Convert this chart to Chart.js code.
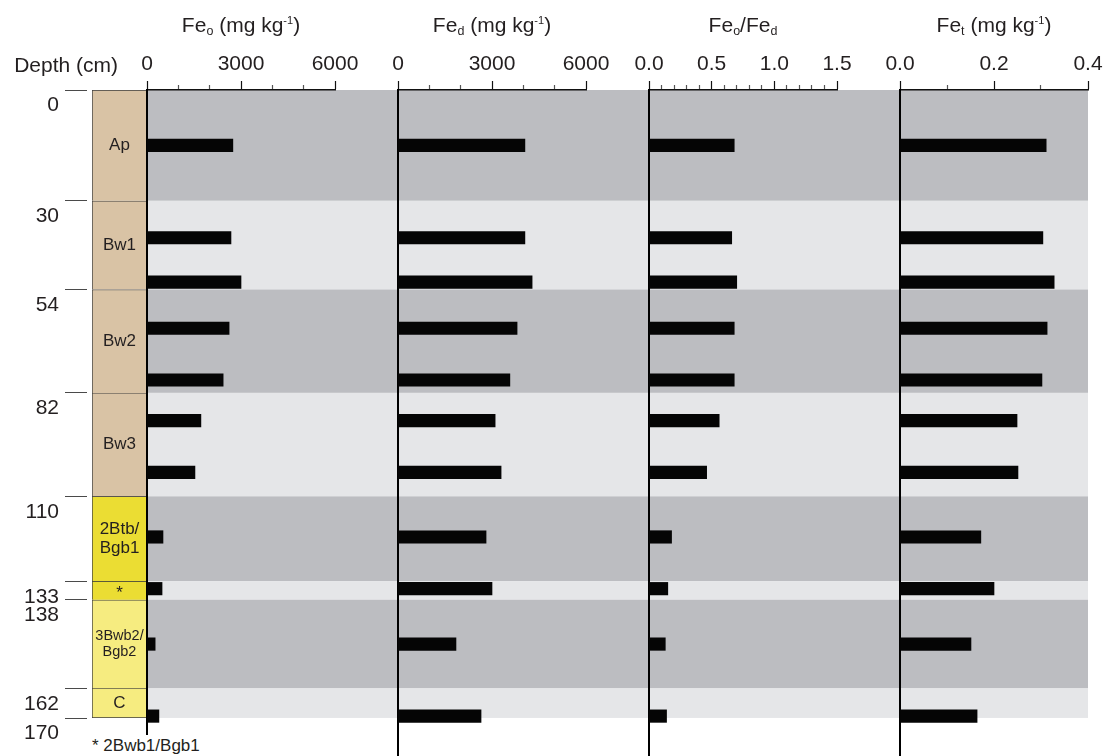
<!DOCTYPE html>
<html>
<head>
<meta charset="utf-8">
<script src="https://cdn.jsdelivr.net/npm/chart.js"></script>
<style>
    html, body { margin: 0; padding: 0; background: #fff; overflow: hidden; }
    #lienzo { position: relative; width: 1106px; height: 756px; overflow: hidden;
              font-family: 'Liberation Sans', Arial, sans-serif; color: #231f20; }
    #lienzo canvas { position: absolute; top: 0; }
    .txt { position: absolute; white-space: nowrap; font-size: 21px; line-height: 26px; }
    .titulo { width: 250px; text-align: center; top: 12px; }
    .txt sub { font-size: 12.5px; line-height: 0; vertical-align: -3px; }
    .txt sup { font-size: 11px; line-height: 0; vertical-align: 8px; }
    .nota { left: 92px; top: 735px; font-size: 17px; line-height: 21px; background: #fff; padding-right: 4px; }
</style>
</head>
<body>
<div id="lienzo">
    <canvas id="profundidad" width="92" height="756" style="left:0"></canvas>
    <canvas id="horizontes" width="55" height="756" style="left:92px"></canvas>
    <canvas id="panel1" width="281" height="756" style="left:117px"></canvas>
    <canvas id="panel2" width="281" height="756" style="left:368px"></canvas>
    <canvas id="panel3" width="281" height="756" style="left:619px"></canvas>
    <canvas id="panel4" width="240" height="756" style="left:870px"></canvas>

    <div class="txt" style="left:0;width:118px;text-align:right;top:52px">Depth (cm)</div>
    <div class="txt titulo" style="left:116px">Fe<sub>o</sub> (mg kg<sup>-1</sup>)</div>
    <div class="txt titulo" style="left:367px">Fe<sub>d</sub> (mg kg<sup>-1</sup>)</div>
    <div class="txt titulo" style="left:618px">Fe<sub>o</sub>/Fe<sub>d</sub></div>
    <div class="txt titulo" style="left:869px">Fe<sub>t</sub> (mg kg<sup>-1</sup>)</div>
    <div class="txt nota">* 2Bwb1/Bgb1</div>
</div>

<script>
// Limites de los horizontes (cm)
const limites = [0, 30, 54, 82, 110, 133, 138, 162, 170]
const horizontes = ['Ap', 'Bw1', 'Bw2', 'Bw3', ['2Btb/', 'Bgb1'], '*', ['3Bwb2/', 'Bgb2'], 'C']

// Profundidad de cada muestra (cm)
const profMuestra = [15, 40, 52, 64.5, 78.5, 89.5, 103.5, 121, 135, 150, 169.5]

// Valores por muestra
const feO = [2740, 2680, 3000, 2620, 2430, 1720, 1530, 510, 480, 260, 380]
const feD = [4050, 4050, 4280, 3800, 3570, 3100, 3290, 2810, 3000, 1850, 2650]
const feOD = [0.68, 0.66, 0.70, 0.68, 0.68, 0.56, 0.46, 0.18, 0.15, 0.13, 0.14]
const feT = [0.311, 0.304, 0.328, 0.313, 0.302, 0.249, 0.251, 0.172, 0.200, 0.151, 0.164]

// Etiquetas de los ejes
const marcasFeO = [0, 3000, 6000]
const marcasFeD = [0, 3000, 6000]
const marcasFeOD = [0, 0.5, 1.0, 1.5]
const marcasFeT = [0, 0.2, 0.4]

// Estilos
const fuente = "'Liberation Sans', Arial, sans-serif"
const colorTexto = '#231f20'
const coloresHorizonte = ['#d9c3a5', '#d9c3a5', '#d9c3a5', '#d9c3a5', '#ebdd33', '#ebdd33', '#f6ec80', '#f6ec80']
const tamHorizonte = [17, 17, 17, 17, 17, 17, 14.5, 17]
const coloresBanda = ['#bcbdc1', '#e5e6e8']

const base = {
    responsive: false,
    animation: false,
    devicePixelRatio: 1,
    events: []
}

// Bandas grises por horizonte, detras de las barras
const bandas = {
    id: 'bandas',
    beforeDraw(chart, args, opts) {
        const { ctx, chartArea, scales: { y } } = chart
        ctx.save()
        for (let i = 0; i < horizontes.length; i++) {
            const y1 = y.getPixelForValue(limites[i])
            const y2 = y.getPixelForValue(limites[i + 1])
            ctx.fillStyle = coloresBanda[i % 2]
            ctx.fillRect(chartArea.left, y1, opts.ancho, y2 - y1)
        }
        ctx.restore()
    }
}

// Nombres dentro de la columna de horizontes
const nombresHorizonte = {
    id: 'nombresHorizonte',
    afterDatasetsDraw(chart) {
        const { ctx, chartArea, scales: { y } } = chart
        const xc = (chartArea.left + chartArea.right) / 2
        ctx.save()
        ctx.fillStyle = colorTexto
        ctx.textAlign = 'center'
        ctx.textBaseline = 'middle'
        horizontes.forEach((h, i) => {
            const lineas = Array.isArray(h) ? h : [h]
            const tam = tamHorizonte[i]
            ctx.font = tam + 'px ' + fuente
            const yc = y.getPixelForValue((limites[i] + limites[i + 1]) / 2)
            lineas.forEach((l, j) => {
                const dy = (j - (lineas.length - 1) / 2) * tam * 1.1
                ctx.fillText(l, xc, yc + dy + (l === '*' ? 3 : 0))
            })
        })
        ctx.restore()
    }
}

// Eje de profundidad
new Chart(document.getElementById('profundidad'), {
    type: 'bar',
    data: { labels: [], datasets: [] },
    options: {
        ...base,
        layout: { padding: { top: 90, bottom: 38, left: 0, right: 0 } },
        plugins: { legend: { display: false }, tooltip: { enabled: false } },
        scales: {
            x: { display: false },
            y: {
                type: 'linear', reverse: true, min: 0, max: 170,
                afterFit: s => { s.width = 87 },
                afterBuildTicks: s => { s.ticks = limites.map(v => ({ value: v })) },
                ticks: { padding: 6, labelOffset: 15.5, autoSkip: false, color: colorTexto, font: { family: fuente, size: 21 } },
                grid: { drawOnChartArea: false, tickLength: 22, color: '#4a4a4a', lineWidth: 1 },
                border: { display: false }
            }
        }
    }
})

// Columna de horizontes
new Chart(document.getElementById('horizontes'), {
    type: 'bar',
    data: {
        labels: ['perfil'],
        datasets: horizontes.map((h, i) => ({
            label: Array.isArray(h) ? h.join(' ') : h,
            data: [[limites[i], limites[i + 1]]],
            backgroundColor: coloresHorizonte[i],
            borderColor: '#3c3c3c',
            borderWidth: { top: 1, left: 1, right: 0, bottom: i === horizontes.length - 1 ? 1 : 0 },
            borderSkipped: false,
            grouped: false,
            barPercentage: 1,
            categoryPercentage: 1
        }))
    },
    options: {
        ...base,
        layout: { padding: { top: 90, bottom: 38, left: 0, right: 0 } },
        plugins: { legend: { display: false }, tooltip: { enabled: false } },
        scales: {
            x: { display: false },
            y: { display: false, reverse: true, min: 0, max: 170 }
        }
    },
    plugins: [nombresHorizonte]
})

// Paneles de barras
function panel(id, valores, marcas, paso, decimales, anchoFondo, padDer) {
    const max = marcas[marcas.length - 1]
    const esMarca = v => marcas.some(m => Math.abs(m - v) < paso / 100)
    const mayor = c => c.tick && esMarca(c.tick.value)

    return new Chart(document.getElementById(id), {
        type: 'bar',
        data: {
            datasets: [{
                data: profMuestra.map((p, i) => ({ x: valores[i], y: p })),
                backgroundColor: '#050505',
                borderWidth: 0,
                barThickness: 12.5
            }]
        },
        options: {
            ...base,
            indexAxis: 'y',
            layout: { padding: { top: 30, left: 30, right: padDer, bottom: 0 } },
            plugins: { legend: { display: false }, tooltip: { enabled: false }, bandas: { ancho: anchoFondo } },
            scales: {
                x: {
                    type: 'linear', position: 'top', min: 0, max: max,
                    afterFit: s => { s.height = 60 },
                    ticks: {
                        stepSize: paso, autoSkip: false, maxRotation: 0, minRotation: 0, padding: 4,
                        color: colorTexto, font: { family: fuente, size: 21 },
                        callback: v => esMarca(v) ? Number(v).toFixed(decimales) : ''
                    },
                    grid: {
                        drawOnChartArea: false, tickLength: 9,
                        tickBorderDash: [9, 4],
                        tickBorderDashOffset: c => mayor(c) ? 0 : 9,
                        tickColor: c => mayor(c) ? '#111' : '#555',
                        tickWidth: 1.2
                    },
                    border: { color: '#111', width: 1.5 }
                },
                // el eje sigue por debajo de 170 para que la linea llegue al borde
                y: {
                    type: 'linear', reverse: true, min: 0, max: 180.3,
                    offset: false,
                    ticks: { display: false },
                    grid: { display: false, drawTicks: false, offset: false },
                    border: { color: '#000', width: 2 }
                }
            }
        },
        plugins: [bandas]
    })
}

panel('panel1', feO, marcasFeO, 1000, 0, 251, 63)
panel('panel2', feD, marcasFeD, 1000, 0, 251, 63)
panel('panel3', feOD, marcasFeOD, 0.1, 1, 251, 63)
panel('panel4', feT, marcasFeT, 0.1, 1, 188, 22)
</script>
</body>
</html>
